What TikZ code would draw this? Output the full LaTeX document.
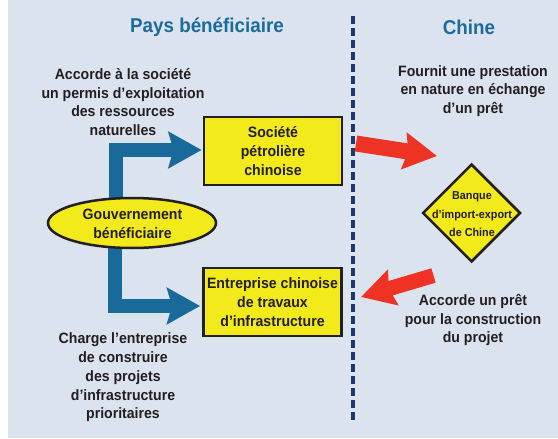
\documentclass[tikz,border=0pt]{standalone}
\usepackage{fontspec}
\setmainfont{Liberation Sans}[FakeStretch=0.94]
\usetikzlibrary{arrows.meta,shapes.geometric}
\definecolor{bgc}{HTML}{DBE3EF}
\definecolor{titleblue}{HTML}{1B6B9B}
\definecolor{arrblue}{HTML}{19699A}
\definecolor{ylw}{HTML}{F3EA1C}
\definecolor{redc}{HTML}{EE3325}
\definecolor{txt}{HTML}{231F20}
\definecolor{dashc}{HTML}{1E3A6D}
\tikzset{
  title/.style={font=\fontsize{20}{24}\selectfont\bfseries, text=titleblue, inner sep=0},
  note/.style={font=\fontsize{15}{18.7}\selectfont\bfseries, text=txt, align=center, inner sep=0},
  box/.style={draw=txt, line width=2.8pt, fill=ylw, minimum width=138pt, minimum height=68pt, inner sep=0,
    font=\fontsize{15}{19}\selectfont\bfseries, text=txt, align=center},
  bluearr/.style={draw=arrblue, line width=14pt, -{Stealth[length=33pt,width=36pt,inset=5pt]}},
  redarr/.style={draw=redc, line width=16pt, -{Stealth[length=33pt,width=36pt,inset=4pt]}},
  divider/.style={draw=dashc, line width=3.2pt, dash pattern=on 8pt off 4pt},
}
\begin{document}
\begin{tikzpicture}[x=1pt,y=-1pt]
\useasboundingbox (0,0) rectangle (558,439);
\fill[bgc] (8,0) rectangle (558,438);

% titles
\node[title] (t1) at (207,27) {Pays bénéficiaire};
\node[title] (t2) at (469,27) {Chine};

% divider
\coordinate (dtop) at (353,16);
\coordinate (dbot) at (353,422);
\draw[divider] (dtop) -- (dbot);

% boxes
\node[box] (oil) at (273,151) {Société\\pétrolière\\chinoise};
\node[box] (infra) at (272.5,302) {Entreprise chinoise\\de travaux\\d’infrastructure};

% government ellipse centre
\coordinate (govc) at (132,223);

% blue bent arrows (drawn before ellipse)
\draw[bluearr] ([xshift=-16pt]govc) |- ([xshift=-1pt,yshift=1pt]oil.west);
\draw[bluearr] ([xshift=-17.5pt]govc) |- ([xshift=-2pt,yshift=-4pt]infra.west);

% ellipse
\node[ellipse, draw=txt, line width=2.5pt, fill=ylw, minimum width=168pt, minimum height=50pt, inner sep=0] (gov) at (govc) {};
\node[note] (govtxt) at (132.5,224) {Gouvernement\\bénéficiaire};

% bank diamond
\node[diamond, draw=txt, line width=2.5pt, fill=ylw, minimum width=98pt, minimum height=98pt, inner sep=0] (bank) at (471.5,213) {};
\node[font=\fontsize{11.5}{18.5}\selectfont\bfseries, text=txt, align=center, inner sep=0] (banktxt) at (472,214.5) {Banque\\d’import-export\\de Chine};

% red arrows
\coordinate (r1a) at (356,143.5);
\coordinate (r1b) at (437,156);
\draw[redarr] (r1a) -- (r1b);
\coordinate (r2a) at (433.5,275.5);
\coordinate (r2b) at (361,297);
\draw[redarr, line width=15pt] (r2a) -- (r2b);

% notes
\node[note] (n1) at (123,102) {Accorde à la société\\un permis d’exploitation\\des ressources\\naturelles};
\node[note] (n2) at (123,377.5) {Charge l’entreprise\\de construire\\des projets\\d’infrastructure\\prioritaires};
\node[note] (n3) at (473,91) {Fournit une prestation\\en nature en échange\\d’un prêt};
\node[note] (n4) at (473,320) {Accorde un prêt\\pour la construction\\du projet};
\end{tikzpicture}
\end{document}
